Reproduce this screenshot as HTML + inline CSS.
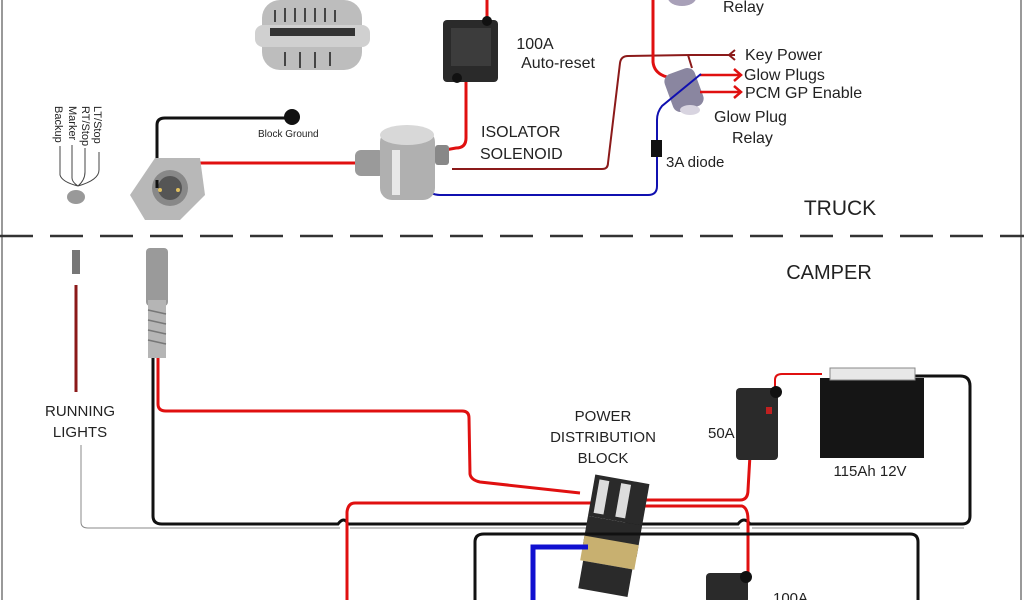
<!DOCTYPE html>
<html><head><meta charset="utf-8"><style>
html,body{margin:0;padding:0;background:#fff;}
svg{display:block;}
text{font-family:"Liberation Sans",sans-serif;fill:#222;}
</style></head><body>
<svg width="1024" height="600" viewBox="0 0 1024 600" xmlns="http://www.w3.org/2000/svg">
<rect width="1024" height="600" fill="#fff"/>
<line x1="2" y1="0" x2="2" y2="600" stroke="#999" stroke-width="2"/>
<line x1="1021" y1="0" x2="1021" y2="600" stroke="#999" stroke-width="2"/>
<line x1="0" y1="236" x2="1024" y2="236" stroke="#333" stroke-width="2.5" stroke-dasharray="33,17"/>

<!-- alternator -->
<g>
<rect x="262" y="0" width="100" height="70" rx="18" fill="#bdbdbd"/>
<rect x="255" y="25" width="115" height="22" rx="8" fill="#d0d0d0"/>
<rect x="270" y="28" width="85" height="8" fill="#333"/>
<g stroke="#444" stroke-width="2">
<line x1="275" y1="10" x2="275" y2="22"/><line x1="285" y1="8" x2="285" y2="22"/><line x1="295" y1="8" x2="295" y2="22"/><line x1="305" y1="8" x2="305" y2="22"/><line x1="315" y1="8" x2="315" y2="22"/><line x1="325" y1="8" x2="325" y2="22"/><line x1="335" y1="10" x2="335" y2="22"/>
<line x1="285" y1="52" x2="285" y2="66"/><line x1="300" y1="52" x2="300" y2="68"/><line x1="315" y1="52" x2="315" y2="68"/><line x1="330" y1="52" x2="330" y2="66"/>
</g>
</g>

<!-- top breaker -->
<line x1="487" y1="0" x2="487" y2="20" stroke="#e01010" stroke-width="3"/>
<rect x="443" y="20" width="55" height="62" rx="4" fill="#2a2a2a"/>
<rect x="451" y="28" width="40" height="38" fill="#3c3c3c"/>
<circle cx="487" cy="21" r="5" fill="#111"/>
<circle cx="457" cy="78" r="5" fill="#111"/>

<!-- red wires truck -->
<path d="M466 82 L466 138 Q466 148 456 148 L445 150" fill="none" stroke="#e01010" stroke-width="3"/>
<path d="M180 180 L182 168 Q184 163 192 163 L362 163" fill="none" stroke="#e01010" stroke-width="3"/>
<path d="M157 180 L157 125 Q157 118 165 118 L292 118" fill="none" stroke="#111" stroke-width="3"/>
<circle cx="292" cy="117" r="8" fill="#111"/>
<text x="258" y="137" font-size="10">Block Ground</text>

<!-- dark red key power -->
<path d="M452 169 L602 169 Q608 169 608 163 L620 63 Q621 56 628 56 L690 55" fill="none" stroke="#8b1a1a" stroke-width="2"/>
<path d="M688 55 L692 68" fill="none" stroke="#8b1a1a" stroke-width="2"/>
<path d="M735 50 L729 55 L735 60" fill="none" stroke="#8b1a1a" stroke-width="2"/>
<line x1="690" y1="55" x2="735" y2="55" stroke="#8b1a1a" stroke-width="2"/>
<!-- red from top relay -->
<path d="M653 0 L653 62 Q654 72 664 76 L676 80" fill="none" stroke="#e01010" stroke-width="3"/>
<!-- top relay -->
<ellipse cx="682" cy="-2" rx="14" ry="8" fill="#a8a0b8"/>
<text x="723" y="12" font-size="16">Relay</text>

<!-- glow relay -->
<rect x="668" y="70" width="32" height="40" rx="8" fill="#8a86a0" transform="rotate(-20 684 90)"/>
<ellipse cx="690" cy="110" rx="10" ry="5" fill="#d8d4e0"/>
<path d="M700 75 L740 75 M700 92 L740 92" stroke="#e01010" stroke-width="2.5"/>
<path d="M734 69 L741 75 L734 81 M734 86 L741 92 L734 98" fill="none" stroke="#e01010" stroke-width="2.5"/>
<text x="745" y="60" font-size="16">Key Power</text>
<text x="744" y="80" font-size="16">Glow Plugs</text>
<text x="745" y="98" font-size="16">PCM GP Enable</text>
<text x="714" y="122" font-size="16">Glow Plug</text>
<text x="732" y="143" font-size="16">Relay</text>

<!-- blue wire -->
<path d="M701 74 L662 106 Q657 112 657 120 L657 186 Q657 195 648 195 L440 195 Q430 195 420 185 L412 175" fill="none" stroke="#1010b0" stroke-width="2"/>
<rect x="651" y="140" width="11" height="17" fill="#111"/>
<text x="666" y="167" font-size="15">3A diode</text>

<!-- solenoid -->
<rect x="355" y="150" width="30" height="26" rx="6" fill="#9a9a9a"/>
<rect x="380" y="130" width="55" height="70" rx="12" fill="#b0b0b0"/>
<ellipse cx="407" cy="135" rx="27" ry="10" fill="#d8d8d8"/>
<rect x="392" y="150" width="8" height="45" fill="#e8e8e8"/>
<rect x="435" y="145" width="14" height="20" rx="3" fill="#888"/>

<text x="535" y="49" font-size="16" text-anchor="middle">100A</text>
<text x="558" y="68" font-size="16" text-anchor="middle">Auto-reset</text>
<text x="481" y="137" font-size="16">ISOLATOR</text>
<text x="480" y="159" font-size="16">SOLENOID</text>

<!-- trailer socket -->
<path d="M130 195 L155 158 L200 158 L205 195 L180 220 L145 220 Z" fill="#b8b8b8"/>
<circle cx="170" cy="188" r="18" fill="#888"/>
<circle cx="170" cy="188" r="12" fill="#555"/>
<circle cx="160" cy="190" r="2" fill="#e0c060"/><circle cx="178" cy="190" r="2" fill="#e0c060"/>
<path d="M157 180 L157 188" stroke="#111" stroke-width="3"/>

<!-- rotated labels -->
<g font-size="11">
<text transform="translate(94,106) rotate(90)">LT/Stop</text>
<text transform="translate(82,106) rotate(90)">RT/Stop</text>
<text transform="translate(69,106) rotate(90)">Marker</text>
<text transform="translate(55,106) rotate(90)">Backup</text>
</g>
<path d="M99 152 L99 170 Q99 180 78 186 M85 148 L85 172 Q85 180 78 186 M72 145 L72 178 Q72 182 78 186 M60 146 L60 175 Q62 182 78 186" fill="none" stroke="#444" stroke-width="1"/>
<ellipse cx="76" cy="197" rx="9" ry="7" fill="#999"/>

<text x="840" y="215" font-size="21" text-anchor="middle">TRUCK</text>
<text x="829" y="279" font-size="20" text-anchor="middle">CAMPER</text>

<!-- camper left -->
<rect x="72" y="250" width="8" height="24" fill="#777"/>
<line x1="76" y1="285" x2="76" y2="392" stroke="#8b1a1a" stroke-width="3"/>
<text x="80" y="416" font-size="15" text-anchor="middle">RUNNING</text>
<text x="80" y="437" font-size="15" text-anchor="middle">LIGHTS</text>
<path d="M81 445 L81 522 Q81 528 88 528 L340 528 M350 528 L740 528 M752 528 L964 528" fill="none" stroke="#888" stroke-width="1"/>
<!-- plug -->
<rect x="146" y="248" width="22" height="58" rx="4" fill="#9a9a9a"/>
<rect x="148" y="300" width="18" height="58" fill="#b5b5b5"/>
<g stroke="#777" stroke-width="1.5"><line x1="148" y1="310" x2="166" y2="314"/><line x1="148" y1="320" x2="166" y2="324"/><line x1="148" y1="330" x2="166" y2="334"/><line x1="148" y1="340" x2="166" y2="344"/></g>

<!-- black loop -->
<path d="M153 358 L153 516 Q153 524 162 524 L338 524 Q344 516 348 524 L738 524 Q744 516 750 524 L962 524 Q970 524 970 516 L970 386 Q970 376 960 376 L910 376" fill="none" stroke="#111" stroke-width="3"/>
<!-- red from plug -->
<path d="M158 358 L158 404 Q158 411 166 411 L462 411 Q469 411 469 418 L470 474 Q471 480 480 482 L580 493" fill="none" stroke="#e01010" stroke-width="3"/>
<!-- PDB red out to 50A -->
<path d="M600 500 L740 500 Q748 500 748 490 L750 455" fill="none" stroke="#e01010" stroke-width="3"/>
<path d="M595 503 L355 503 Q348 503 347 512 L347 600" fill="none" stroke="#e01010" stroke-width="3"/>
<path d="M640 506 L742 506 Q748 508 748 520 L748 578" fill="none" stroke="#e01010" stroke-width="3"/>
<path d="M775 395 L775 380 Q775 374 782 374 L822 374" fill="none" stroke="#e01010" stroke-width="2"/>

<!-- 50A breaker -->
<rect x="736" y="388" width="42" height="72" rx="4" fill="#2a2a2a"/>
<circle cx="776" cy="392" r="6" fill="#111"/>
<rect x="766" y="407" width="6" height="7" fill="#c02020"/>
<text x="708" y="438" font-size="15">50A</text>
<!-- battery -->
<rect x="820" y="378" width="104" height="80" fill="#151515"/>
<rect x="830" y="368" width="85" height="12" fill="#e8e8e8" stroke="#888"/>
<text x="870" y="476" font-size="15" text-anchor="middle">115Ah 12V</text>

<!-- PDB -->
<text x="603" y="421" font-size="15" text-anchor="middle">POWER</text>
<text x="603" y="442" font-size="15" text-anchor="middle">DISTRIBUTION</text>
<text x="603" y="463" font-size="15" text-anchor="middle">BLOCK</text>
<g transform="rotate(10 610 535)">
<rect x="585" y="478" width="55" height="42" fill="#2a2a2a"/>
<rect x="590" y="482" width="10" height="34" fill="#ddd"/><rect x="612" y="482" width="10" height="34" fill="#ddd"/>
<rect x="585" y="520" width="55" height="32" fill="#2a2a2a"/>
<rect x="585" y="540" width="55" height="25" fill="#c8b070"/>
<rect x="588" y="565" width="50" height="28" fill="#2a2a2a"/>
</g>

<!-- lower black rect -->
<path d="M475 600 L475 542 Q475 534 484 534 L910 534 Q918 534 918 542 L918 600" fill="none" stroke="#111" stroke-width="3"/>
<path d="M533 600 L533 547 L588 547" fill="none" stroke="#1010d0" stroke-width="5"/>
<!-- 100A breaker -->
<rect x="706" y="573" width="42" height="30" rx="4" fill="#2a2a2a"/>
<circle cx="746" cy="577" r="6" fill="#111"/>
<text x="773" y="603" font-size="15">100A</text>
</svg>
</body></html>
